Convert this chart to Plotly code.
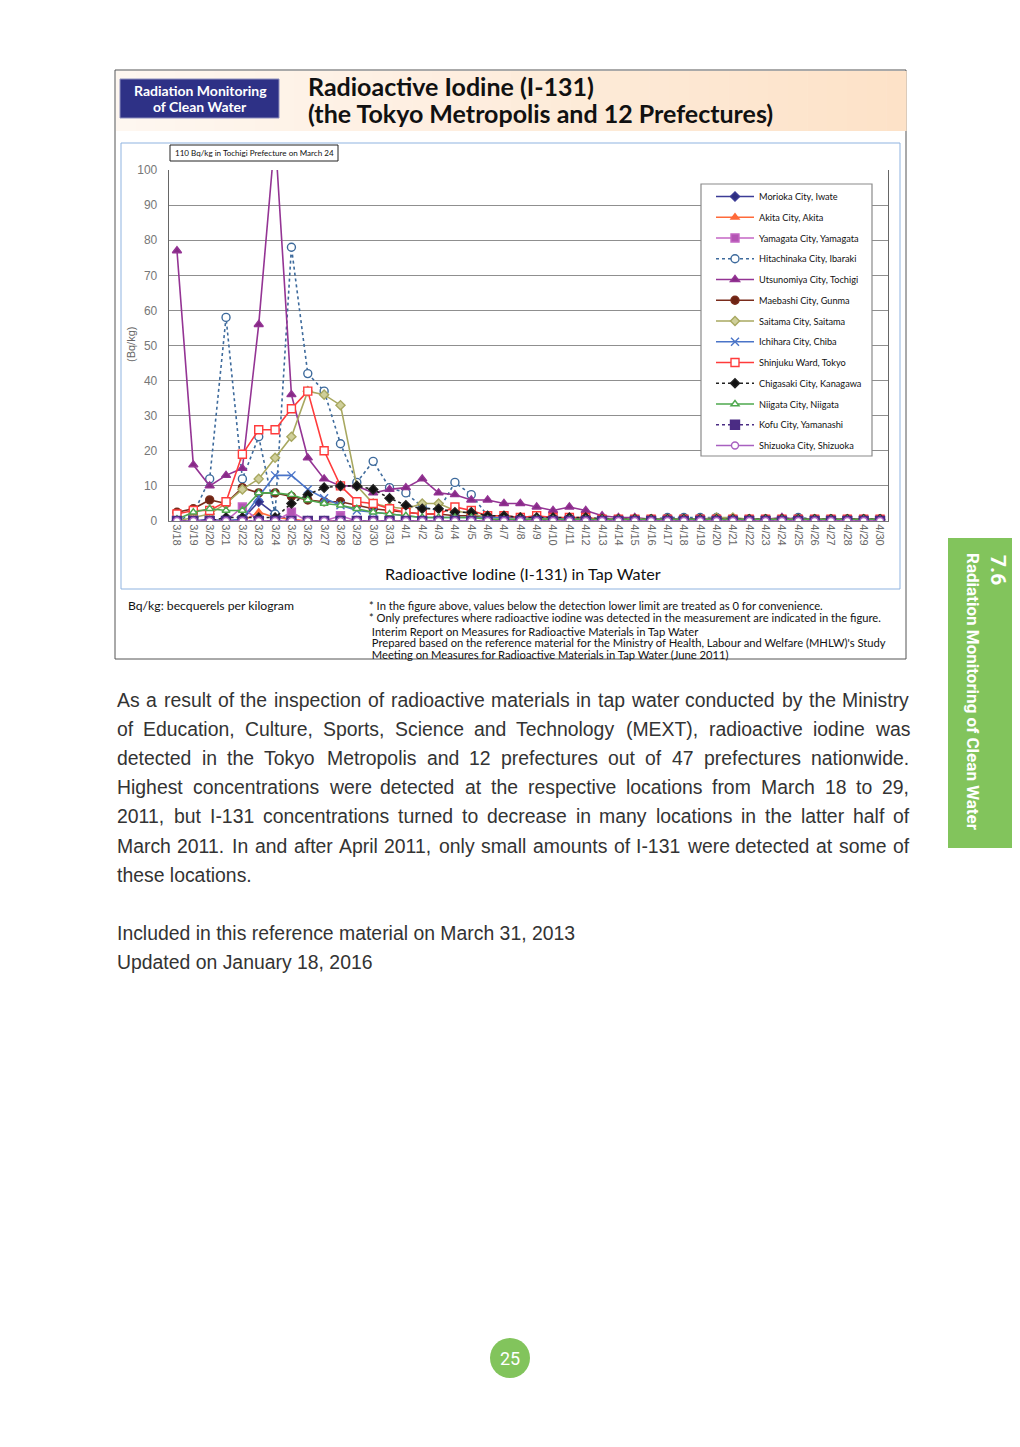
import plotly.graph_objects as go

# the page puts the plot 8px in from the top-left corner, so work in page pixels
OFF = 8
W, H = 1020 - 2 * OFF, 1447 - 2 * OFF


def X(p):
    return (p - OFF) / W


def Y(p):
    return 1 - (p - OFF) / H


# ---- data (Bq/kg) ----
dates = [f"3/{d}" for d in range(18, 32)] + [f"4/{d}" for d in range(1, 31)]

morioka = [0, 0, 0.5, 0, 0.5, 5.5, 2, 0, 0, 0, 0, 0, 0, 0] + [0] * 30
akita = [0, 0, 0, 0, 0, 2.5, 1, 0.5, 0, 0, 0, 0, 0, 0] + [0] * 30
yamagata = [0, 0, 0, 0, 4, 0, 0, 2.5, 0, 0, 1.5, 0, 0, 0] + [0] * 30
hitachinaka = [0, 2, 12, 58, 12, 24, 2, 78, 42, 37, 22, 11, 17, 9.5,
               8, 4, 3, 11, 7.5, 1.5, 1.5, 1, 1, 0.8, 0.8, 0.8, 0.8, 0.5,
               0.5, 0.5, 1, 1, 1, 1, 0.5, 0.5, 0.5, 0.5, 1, 0.5, 0.5, 0.5, 0.5, 0.5]
utsunomiya = [77, 16, 10, 13, 15, 56, 110, 36, 18, 12, 10, 10, 8, 9,
              9.5, 12, 8, 7.5, 6, 6, 5, 5, 4, 3, 4, 3, 1.5, 1,
              1, 0.5, 0.5, 0.5, 0.5, 0.5, 0.5, 0.5, 0.5, 1, 0.5, 0.5, 0.5, 0.5, 0.5, 0.5]
maebashi = [2.5, 3.5, 6, 5, 9.5, 8, 8, 7, 6, 5.5, 5.5, 4.5, 3.5, 3,
            2.5, 2, 2, 1.5, 1.5, 1, 1, 1, 1, 0.5, 0.5, 0.5, 0.5, 0.5,
            0.5, 0.5, 0.5, 0.5, 0.5, 0.5, 0.5, 0.5, 0.5, 0.5, 0.5, 0.5, 0.5, 0.5, 0.5, 0.5]
saitama = [0, 1, 2, 5, 9, 12, 18, 24, 37, 36, 33, 10, 5, 4,
           3.5, 5, 5, 3, 2, 1, 1, 1, 1, 0.5, 0.5, 0.5, 0.5, 0.5,
           0.5, 0.5, 0.5, 0.5, 0.5, 1, 1, 0.5, 0.5, 0.5, 0.5, 0.5, 0.5, 0.5, 0.5, 0.5]
ichihara = [0, 0, 0, 0, 0.5, 7, 13, 13, 9, 6.5, 4.5, 3, 2.5, 2,
            1.5, 1, 1, 1, 1, 1, 1, 1, 1, 1, 0.5, 0.5, 0.5, 0.5,
            0.5, 0.5, 0.5, 0.5, 0.5, 0.5, 0.5, 0.5, 0.5, 0.5, 0.5, 0.5, 0.5, 0.5, 0.5, 0.5]
shinjuku = [2, 3, 3, 5.5, 19, 26, 26, 32, 37, 20, 10, 5.5, 5, 3.5,
            2.5, 2, 2, 4, 3, 1.5, 1.5, 1, 1.5, 1, 1, 1, 0.5, 0.5,
            0.5, 0.5, 0.5, 0.5, 0.5, 0.5, 0.5, 0.5, 0.5, 0.5, 0.5, 0.5, 0.5, 0.5, 0.5, 0.5]
chigasaki = [0, 0, 0, 1, 1, 1, 1, 5, 7.5, 9.5, 10, 10, 9, 6.5,
             4.5, 3.5, 3.5, 2.5, 2.5, 1.5, 1.5, 1, 1, 1, 1, 1, 0.5, 0.5,
             0.5, 0.5, 0.5, 0.5, 0.5, 0.5, 0.5, 0.5, 0.5, 0.5, 0.5, 0.5, 0.5, 0.5, 0.5, 0.5]
niigata = [0.5, 2.5, 3.5, 3, 3, 8, 8, 7.5, 6, 5, 4.5, 3.5, 2.5, 2,
           1.5, 1, 1, 1, 1, 0.5, 0.5, 0.5, 0.5, 0.5, 0.5, 0.5, 0.5, 0.5,
           0.5, 0.5, 0.5, 0.5, 0.5, 0.5, 0.5, 0.5, 0.5, 0.5, 0.5, 0.5, 0.5, 0.5, 0.5, 0.5]
kofu = [0] * 44
shizuoka = [0] * 44

series_names = ["Morioka City, Iwate", "Akita City, Akita", "Yamagata City, Yamagata",
                "Hitachinaka City, Ibaraki", "Utsunomiya City, Tochigi", "Maebashi City, Gunma",
                "Saitama City, Saitama", "Ichihara City, Chiba", "Shinjuku Ward, Tokyo",
                "Chigasaki City, Kanagawa", "Niigata City, Niigata", "Kofu City, Yamanashi",
                "Shizuoka City, Shizuoka"]
series_values = [morioka, akita, yamagata, hitachinaka, utsunomiya, maebashi, saitama,
                 ichihara, shinjuku, chigasaki, niigata, kofu, shizuoka]

y_ticks = list(range(0, 101, 10))

body_lines = [
    "As a result of the inspection of radioactive materials in tap water conducted by the Ministry",
    "of Education, Culture, Sports, Science and Technology (MEXT), radioactive iodine was",
    "detected in the Tokyo Metropolis and 12 prefectures out of 47 prefectures nationwide.",
    "Highest concentrations were detected at the respective locations from March 18 to 29,",
    "2011, but I-131 concentrations turned to decrease in many locations in the latter half of",
    "March 2011. In and after April 2011, only small amounts of I-131 were detected at some of",
    "these locations.",
]
note_lines = [
    "* In the figure above, values below the detection lower limit are treated as 0 for convenience.",
    "* Only prefectures where radioactive iodine was detected in the measurement are indicated in the figure.",
    " Interim Report on Measures for Radioactive Materials in Tap Water",
    " Prepared based on the reference material for the Ministry of Health, Labour and Welfare (MHLW)'s Study",
    " Meeting on Measures for Radioactive Materials in Tap Water (June 2011)",
]

# (line colour, dash, marker symbol, marker fill, marker size)
styles = [
    ("#3c3c96", "solid", "diamond", "#2e2e80", 7),
    ("#ff6a3a", "solid", "triangle-up", "#ff6a3a", 7),
    ("#c466c4", "solid", "square", "#b455b4", 8),
    ("#3d6a9c", "dot", "circle", "white", 8),
    ("#943494", "solid", "triangle-up", "#862a86", 8),
    ("#7a2c1c", "solid", "circle", "#6e2414", 8),
    ("#a8a860", "solid", "diamond", "#cfcf9a", 7),
    ("#4a74c8", "solid", "x-thin", "#4a74c8", 8),
    ("#ff3b3b", "solid", "square", "white", 8),
    ("#222222", "dot", "diamond", "#111111", 7),
    ("#4ea84e", "solid", "triangle-up", "white", 7),
    ("#4b2c84", "dot", "square", "#4b2c84", 9),
    ("#a860c0", "solid", "circle", "white", 7),
]

fig = go.Figure()

for i, (name, vals) in enumerate(zip(series_names, series_values)):
    lc, dash, sym, fill, size = styles[i]
    fig.add_trace(go.Scatter(
        x=dates, y=vals, name=name, mode="lines+markers",
        legendgroup=name,
        line=dict(color=lc, width=1.6, dash=dash),
        marker=dict(symbol=sym, size=size, color=fill,
                    line=dict(color=lc, width=1.4)),
    ))

shapes = []
annotations = []


def text(x, y, s, size, family="Lato", color="#111111", xanchor="left", angle=0):
    annotations.append(dict(xref="paper", yref="paper", x=X(x), y=Y(y), xanchor=xanchor, yanchor="middle",
                            showarrow=False, text=s, textangle=angle,
                            font=dict(family=family, size=size, color=color)))


# outer frame
shapes.append(dict(type="rect", xref="paper", yref="paper", x0=X(115), x1=X(906), y0=Y(659), y1=Y(70),
                   line=dict(color="#555555", width=1), layer="below"))
# header band: horizontal gradient made of strips
n = 40
c0, c1 = (254, 247, 240), (253, 226, 200)
for k in range(n):
    t = k / (n - 1)
    col = tuple(round(c0[j] + (c1[j] - c0[j]) * t) for j in range(3))
    xa = 116 + (906 - 116) * k / n
    xb = 116 + (906 - 116) * (k + 1) / n + 0.6
    shapes.append(dict(type="rect", xref="paper", yref="paper", x0=X(xa), x1=X(xb), y0=Y(131), y1=Y(71),
                       line=dict(width=0), fillcolor="rgb(%d,%d,%d)" % col, layer="below"))
# navy label box
shapes.append(dict(type="rect", xref="paper", yref="paper", x0=X(120), x1=X(279), y0=Y(118), y1=Y(79),
                   line=dict(color="#8d8fbd", width=1), fillcolor="#2e3186", layer="below"))
text(200, 91, "<b>Radiation Monitoring</b>", 14, color="white", xanchor="center")
text(200, 106, "<b>of Clean Water</b>", 14, color="white", xanchor="center")
text(306, 86.5, "<b>Radioactive Iodine (I-131)</b>", 25)
text(306, 113.5, "<b>(the Tokyo Metropolis and 12 Prefectures)</b>", 25)

# chart frame (light blue)
shapes.append(dict(type="rect", xref="paper", yref="paper", x0=X(121), x1=X(900), y0=Y(589), y1=Y(143),
                   line=dict(color="#8fb3e0", width=1), fillcolor="white", layer="below"))
# note box at top
shapes.append(dict(type="rect", xref="paper", yref="paper", x0=X(170), x1=X(338), y0=Y(161), y1=Y(145),
                   line=dict(color="#222222", width=1), fillcolor="white", layer="above"))
text(173, 153.5, "110 Bq/kg in Tochigi Prefecture on March 24", 8.05)
# legend box (plotly legend itself drawn transparent on top)
shapes.append(dict(type="rect", xref="paper", yref="paper", x0=X(701), x1=X(872), y0=Y(456), y1=Y(184),
                   line=dict(color="#8a8a8a", width=1.2), fillcolor="white", layer="above"))

# axis titles
text(131, 345, "(Bq/kg)", 11, family="Liberation Sans", color="#666666", xanchor="center", angle=-90)
text(523, 573, "Radioactive Iodine (I-131) in Tap Water", 16.2, xanchor="center")

# notes under chart
text(126, 605, "Bq/kg: becquerels per kilogram", 12.2)
for ty, s in zip([605, 617, 631, 643, 654], note_lines):
    text(367, ty, s, 11.2)

# body text, justified word by word (Liberation Sans has Arial metrics)
ARIAL = {" ": 278, ",": 278, ".": 278, "(": 333, ")": 333, "-": 333, "'": 191,
         "a": 556, "b": 556, "c": 500, "d": 556, "e": 556, "f": 278, "g": 556, "h": 556, "i": 222,
         "j": 222, "k": 500, "l": 222, "m": 833, "n": 556, "o": 556, "p": 556, "q": 556, "r": 333,
         "s": 500, "t": 278, "u": 556, "v": 500, "w": 722, "x": 500, "y": 500, "z": 500,
         "A": 667, "B": 667, "C": 722, "D": 722, "E": 667, "F": 611, "G": 778, "H": 722, "I": 278,
         "J": 500, "K": 667, "L": 556, "M": 833, "N": 722, "O": 778, "P": 667, "Q": 778, "R": 722,
         "S": 667, "T": 611, "U": 722, "V": 667, "W": 944, "X": 667, "Y": 667, "Z": 611}
BODY_SIZE = 19.4


def width(s):
    return sum(ARIAL.get(ch, 556) for ch in s) / 1000 * BODY_SIZE


left, right = 115, 907
for k, line in enumerate(body_lines):
    ty = 700 + 29.1 * k
    words = line.split(" ")
    if k == len(body_lines) - 1:
        text(left, ty, line, BODY_SIZE, family="Liberation Sans", color="#333333")
        continue
    total = sum(width(w_) for w_ in words)
    gap = (right - left - total) / (len(words) - 1)
    xpos = left
    for w_ in words:
        text(xpos, ty, w_, BODY_SIZE, family="Liberation Sans", color="#333333")
        xpos += width(w_) + gap
text(left, 933, "Included in this reference material on March 31, 2013", BODY_SIZE,
     family="Liberation Sans", color="#333333")
text(left, 962, "Updated on January 18, 2016", BODY_SIZE, family="Liberation Sans", color="#333333")

# side tab
shapes.append(dict(type="rect", xref="paper", yref="paper", x0=X(948), x1=1, y0=Y(848), y1=Y(538),
                   line=dict(width=0), fillcolor="#82c45c", layer="below"))
text(998, 570, "<b>7.6</b>", 21, family="Roboto", color="white", xanchor="center", angle=90)
text(973, 692, "<b>Radiation Monitoring of Clean Water</b>", 17, family="Roboto", color="white",
     xanchor="center", angle=90)

# page number
shapes.append(dict(type="circle", xref="paper", yref="paper", x0=X(490), x1=X(530), y0=Y(1378), y1=Y(1338),
                   line=dict(width=0), fillcolor="#82c45c", layer="below"))
text(510, 1358, "25", 18, family="Roboto", color="white", xanchor="center")

fig.update_layout(
    width=W, height=H, autosize=False,
    margin=dict(l=0, r=0, t=0, b=0),
    paper_bgcolor="white", plot_bgcolor="rgba(0,0,0,0)",
    shapes=shapes, annotations=annotations,
    showlegend=True,
    legend=dict(x=X(711), y=Y(182), xanchor="left", yanchor="top",
                bgcolor="rgba(0,0,0,0)", borderwidth=0,
                font=dict(family="Lato", size=9.2, color="#111111"),
                itemwidth=38, tracegroupgap=1.75, traceorder="grouped"),
    xaxis=dict(domain=[X(168.8), X(888.2)], type="category", range=[-0.5, 43.5],
               automargin=False, showgrid=False, zeroline=False,
               showline=True, linecolor="#777777", linewidth=1.2,
               tickangle=90, ticks="", tickfont=dict(family="Liberation Sans", size=11, color="#666666")),
    yaxis=dict(domain=[Y(521), Y(170)], range=[0, 100], automargin=False,
               tickvals=y_ticks, showgrid=True, gridcolor="#8f8f8f", gridwidth=1.3,
               zeroline=False, showline=True, linecolor="#666666", linewidth=1.3, mirror=True,
               ticks="", ticklabelstandoff=8,
               tickfont=dict(family="Liberation Sans", size=12, color="#777777")),
)

fig.write_html("out.html")
